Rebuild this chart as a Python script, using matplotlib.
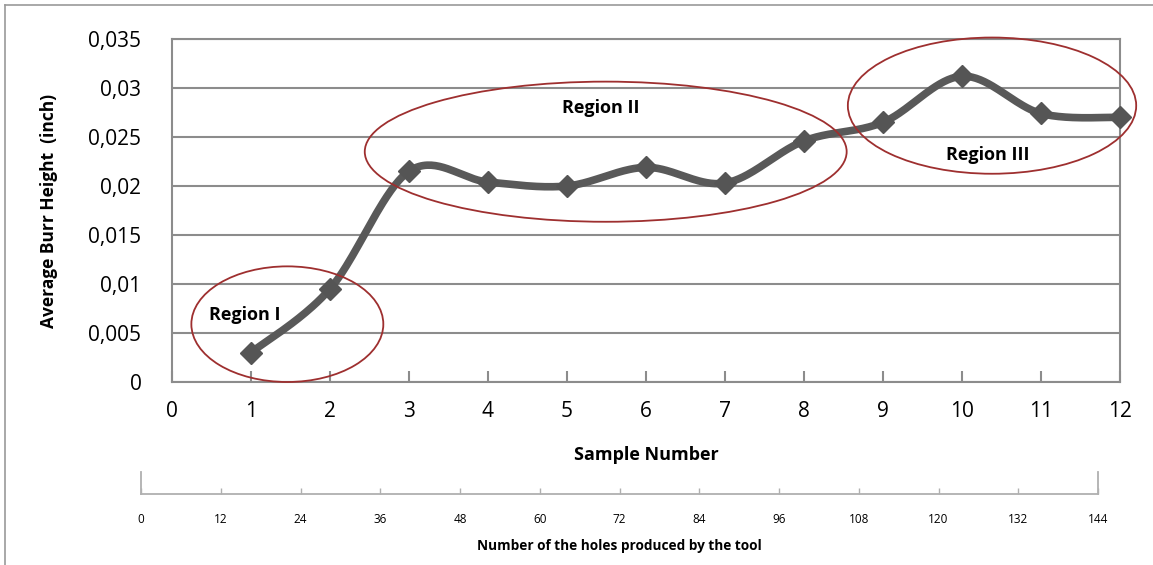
import matplotlib.pyplot as plt
import numpy as np
from matplotlib.patches import Ellipse
from matplotlib.lines import Line2D

# data
samples = [1, 2, 3, 4, 5, 6, 7, 8, 9, 10, 11, 12]
burr_height = [0.0030, 0.0095, 0.0215, 0.0204, 0.0200, 0.0219, 0.0203, 0.0246, 0.0265, 0.0312, 0.0274, 0.0270]
y_ticks = [0, 0.005, 0.01, 0.015, 0.02, 0.025, 0.03, 0.035]
y_tick_labels = ["0", "0,005", "0,01", "0,015", "0,02", "0,025", "0,03", "0,035"]
hole_ticks = [0, 12, 24, 36, 48, 60, 72, 84, 96, 108, 120, 132, 144]

# regions: label, ellipse centre, width, height, label position
regions = [
    ("Region I", (1.46, 0.0059), 2.43, 0.0118, (0.92, 0.0068)),
    ("Region II", (5.49, 0.0235), 6.10, 0.0143, (5.43, 0.0280)),
    ("Region III", (10.38, 0.0282), 3.65, 0.0139, (10.33, 0.0232)),
]

font = "Open Sans"
grey = "#8c8c8c"


def smooth(xs, ys, n=40):
    # Catmull-Rom style smoothing like the spreadsheet "smoothed line"
    xs = np.asarray(xs, float)
    ys = np.asarray(ys, float)
    px = np.concatenate([[xs[0]], xs, [xs[-1]]])
    py = np.concatenate([[ys[0]], ys, [ys[-1]]])
    outx, outy = [], []
    t = np.linspace(0, 1, n)
    for i in range(1, len(px) - 2):
        p0x, p1x, p2x, p3x = px[i - 1], px[i], px[i + 1], px[i + 2]
        p0y, p1y, p2y, p3y = py[i - 1], py[i], py[i + 1], py[i + 2]
        c1x = p1x + (p2x - p0x) / 6
        c1y = p1y + (p2y - p0y) / 6
        c2x = p2x - (p3x - p1x) / 6
        c2y = p2y - (p3y - p1y) / 6
        bx = (1 - t) ** 3 * p1x + 3 * (1 - t) ** 2 * t * c1x + 3 * (1 - t) * t ** 2 * c2x + t ** 3 * p2x
        by = (1 - t) ** 3 * p1y + 3 * (1 - t) ** 2 * t * c1y + 3 * (1 - t) * t ** 2 * c2y + t ** 3 * p2y
        outx.extend(bx)
        outy.extend(by)
    return outx, outy


fig = plt.figure(figsize=(11.53, 5.65), dpi=100)
ax = fig.add_axes([172 / 1153, 1 - 382 / 565, (1120 - 172) / 1153, (382 - 39) / 565])

ax.set_xlim(0, 12)
ax.set_ylim(0, 0.035)
ax.set_yticks(y_ticks)
ax.set_yticklabels(y_tick_labels, fontfamily=font, fontsize=15)
ax.set_xticks(range(0, 13))
ax.set_xticklabels([str(i) for i in range(0, 13)], fontfamily=font, fontsize=15)
ax.tick_params(axis="x", direction="in", length=8, width=1.5, color=grey, pad=14)
ax.tick_params(axis="y", length=0, pad=22)
ax.yaxis.grid(True, color=grey, linewidth=1.5)
ax.set_axisbelow(True)
for s in ax.spines.values():
    s.set_color(grey)
    s.set_linewidth(1.5)

sx, sy = smooth(samples, burr_height)
ax.plot(sx, sy, color="#595959", linewidth=5.5, solid_capstyle="round", zorder=3)
ax.plot(samples, burr_height, linestyle="none", marker="D", markersize=11,
        color="#555555", markeredgecolor="#555555", zorder=4, clip_on=False)

for label, c, w, h, pos in regions:
    ax.add_patch(Ellipse(c, w, h, fill=False, edgecolor="#9e2f2f", linewidth=1.3,
                         zorder=5, clip_on=False))
    ax.text(pos[0], pos[1], label, fontfamily=font, fontsize=13, fontweight="bold",
            ha="center", va="center", zorder=6)

ax.set_xlabel("Sample Number", fontfamily=font, fontsize=13, fontweight="bold", labelpad=17)
ax.set_ylabel("Average Burr Height  (inch)", fontfamily=font, fontsize=12.5, fontweight="bold", labelpad=22)

# second scale: number of holes
ax2 = fig.add_axes([141 / 1153, 1 - 494 / 565, (1098 - 141) / 1153, 22 / 565])
ax2.set_xlim(0, 144)
ax2.set_ylim(0, 1)
ax2.set_yticks([])
ax2.set_xticks(hole_ticks)
ax2.set_xticklabels([str(v) for v in hole_ticks], fontfamily=font, fontsize=8.5)
ax2.tick_params(axis="x", direction="in", length=4, width=1, color="#b0b0b0", pad=14)
ax2.spines["top"].set_visible(False)
for k in ["left", "right", "bottom"]:
    ax2.spines[k].set_color("#b0b0b0")
    ax2.spines[k].set_linewidth(1.3)
ax2.patch.set_alpha(0)
ax2.set_xlabel("Number of the holes produced by the tool", fontfamily=font, fontsize=9.8,
               fontweight="bold", labelpad=9)

# outer frame
fig.add_artist(Line2D([5 / 1153, 5 / 1153], [0, 1 - 5 / 565], color="#999999", linewidth=1.2))
fig.add_artist(Line2D([5 / 1153, 1], [1 - 5 / 565, 1 - 5 / 565], color="#999999", linewidth=1.2))

fig.savefig("out.png", dpi=100)
